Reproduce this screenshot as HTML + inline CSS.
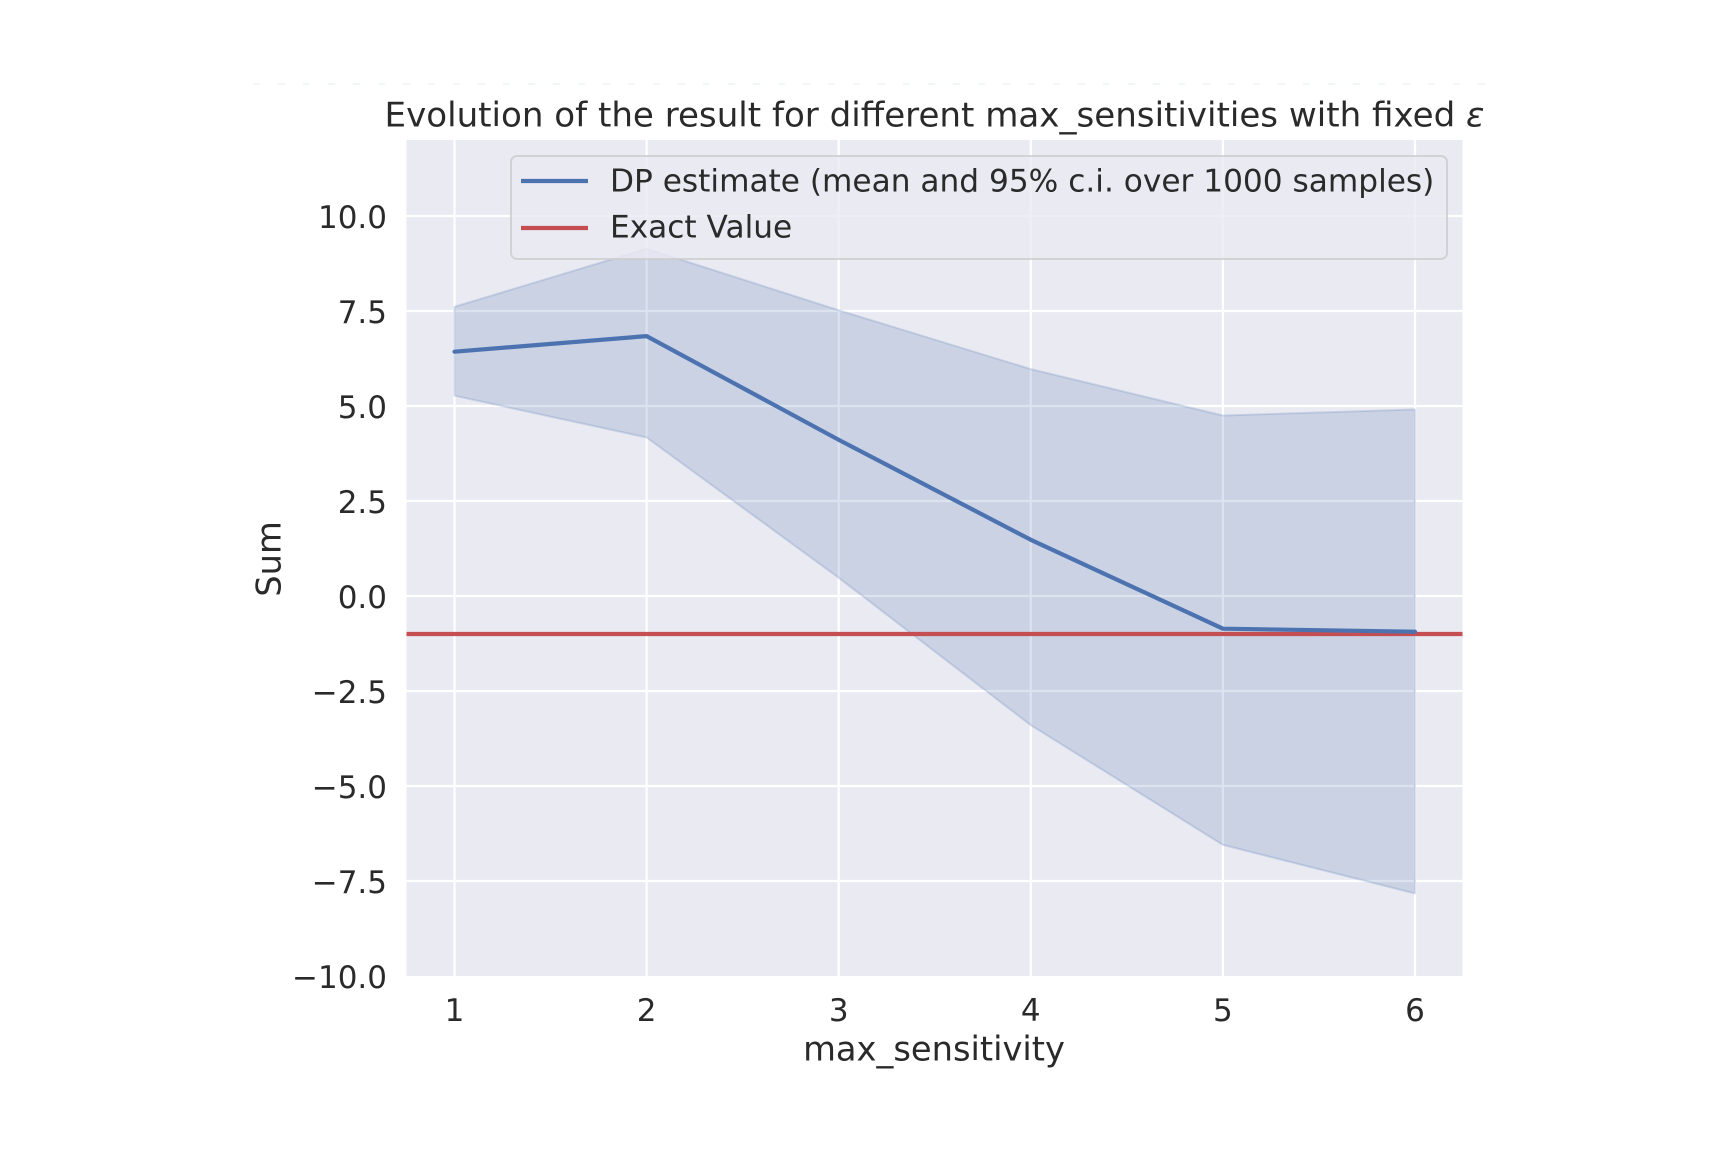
<!DOCTYPE html>
<html>
<head>
<meta charset="utf-8">
<style>
  html, body { margin: 0; padding: 0; background: #ffffff; }
  svg { display: block; }
  text { font-family: "DejaVu Sans", "Liberation Sans", sans-serif; fill: #2a2a2a; }
</style>
</head>
<body>
<svg width="1734" height="1152" viewBox="0 0 1734 1152" xmlns="http://www.w3.org/2000/svg">
  <rect x="0" y="0" width="1734" height="1152" fill="#ffffff"/>
  <!-- faint dotted line at top -->
  <line x1="253" y1="84" x2="1495" y2="84" stroke="#eef4f4" stroke-width="1.6" stroke-dasharray="7 18"/>

  <!-- axes background -->
  <rect x="406.5" y="140" width="1056" height="836" fill="#eaeaf2"/>

  <!-- grid lines -->
  <g stroke="#ffffff" stroke-width="2.2">
    <line x1="454.5" y1="140" x2="454.5" y2="976"/>
    <line x1="646.6" y1="140" x2="646.6" y2="976"/>
    <line x1="838.7" y1="140" x2="838.7" y2="976"/>
    <line x1="1030.8" y1="140" x2="1030.8" y2="976"/>
    <line x1="1222.9" y1="140" x2="1222.9" y2="976"/>
    <line x1="1415.0" y1="140" x2="1415.0" y2="976"/>
    <line x1="406.5" y1="881" x2="1462.5" y2="881"/>
    <line x1="406.5" y1="786" x2="1462.5" y2="786"/>
    <line x1="406.5" y1="691" x2="1462.5" y2="691"/>
    <line x1="406.5" y1="596" x2="1462.5" y2="596"/>
    <line x1="406.5" y1="501" x2="1462.5" y2="501"/>
    <line x1="406.5" y1="406" x2="1462.5" y2="406"/>
    <line x1="406.5" y1="311" x2="1462.5" y2="311"/>
    <line x1="406.5" y1="216" x2="1462.5" y2="216"/>
  </g>

  <!-- confidence band -->
  <polygon points="454.5,306.8 646.6,248.7 838.7,310.2 1030.8,369.1 1222.9,415.5 1415.0,409.4 1415.0,893.5 1222.9,844.9 1030.8,725.2 838.7,577.8 646.6,437.5 454.5,395.7"
           fill="#4c72b0" fill-opacity="0.2" stroke="#4c72b0" stroke-opacity="0.2" stroke-width="2" stroke-linejoin="round"/>

  <!-- exact value line -->
  <line x1="406.5" y1="634" x2="1462.5" y2="634" stroke="#c44e52" stroke-width="4.2"/>

  <!-- mean line -->
  <polyline points="454.5,351.7 646.6,336.1 838.7,439.8 1030.8,539.8 1222.9,628.7 1415.0,631.7"
            fill="none" stroke="#4c72b0" stroke-width="4.2" stroke-linejoin="round" stroke-linecap="round"/>

  <!-- legend -->
  <rect x="511" y="156" width="936" height="103" rx="6" ry="6" fill="#eaeaf2" fill-opacity="0.8" stroke="#cccccc" stroke-opacity="0.8" stroke-width="2"/>
  <line x1="521" y1="181" x2="588" y2="181" stroke="#4c72b0" stroke-width="4.2"/>
  <line x1="521" y1="228" x2="588" y2="228" stroke="#c44e52" stroke-width="4.2"/>
  <text x="610" y="191.5" font-size="31.2">DP estimate (mean and 95% c.i. over 1000 samples)</text>
  <text x="610" y="237.5" font-size="31.2">Exact Value</text>

  <!-- title -->
  <text x="934.5" y="126.5" font-size="34.1" text-anchor="middle">Evolution of the result for different max_sensitivities with fixed <tspan font-style="italic">ε</tspan></text>

  <!-- y tick labels -->
  <g font-size="31" text-anchor="end">
    <text x="387" y="228">10.0</text>
    <text x="387" y="323">7.5</text>
    <text x="387" y="418">5.0</text>
    <text x="387" y="513">2.5</text>
    <text x="387" y="608">0.0</text>
    <text x="387" y="703">−2.5</text>
    <text x="387" y="798">−5.0</text>
    <text x="387" y="893">−7.5</text>
    <text x="387" y="988">−10.0</text>
  </g>

  <!-- x tick labels -->
  <g font-size="31" text-anchor="middle">
    <text x="454.5" y="1021">1</text>
    <text x="646.6" y="1021">2</text>
    <text x="838.7" y="1021">3</text>
    <text x="1030.8" y="1021">4</text>
    <text x="1222.9" y="1021">5</text>
    <text x="1415.0" y="1021">6</text>
  </g>

  <!-- axis labels -->
  <text x="934" y="1060.5" font-size="33.7" text-anchor="middle">max_sensitivity</text>
  <text x="0" y="0" font-size="33.7" text-anchor="middle" transform="translate(280.5,559) rotate(-90)">Sum</text>
</svg>
</body>
</html>
